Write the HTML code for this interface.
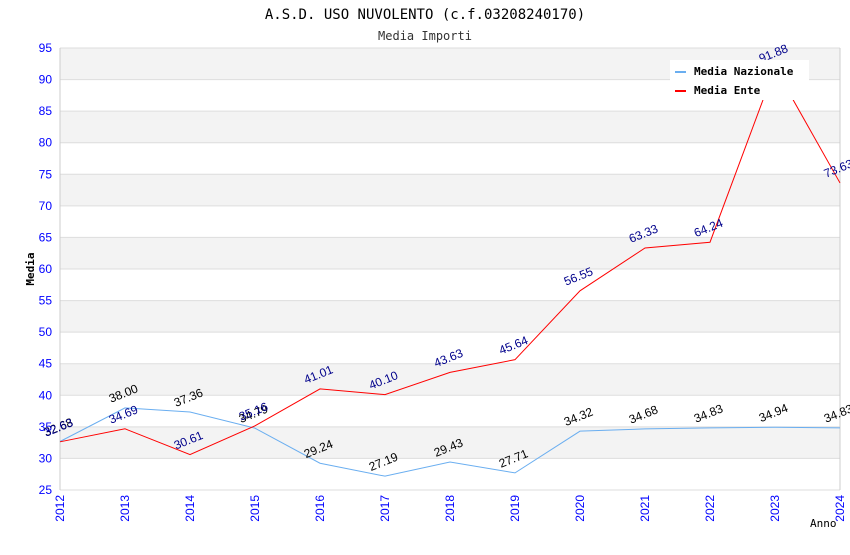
<!DOCTYPE html>
<html><head><meta charset="utf-8"><style>
body{margin:0;background:#fff;}
svg text{font-family:"DejaVu Sans Mono","Liberation Mono",monospace;}
svg text.sans{font-family:"Liberation Sans",Arial,sans-serif;}
</style></head><body>
<svg id="chart" width="850" height="550">
<text x="425" y="19" text-anchor="middle" font-size="14" fill="#000">A.S.D. USO NUVOLENTO (c.f.03208240170)</text>
<text x="425" y="40" text-anchor="middle" font-size="12" fill="#333">Media Importi</text>
<g id="bands"></g><g id="grid"></g><g id="axes"></g><g id="series"></g><g id="labels"></g>
<text x="34" y="269" text-anchor="middle" font-size="11" font-weight="bold" transform="rotate(-90 34 269)">Media</text>
<text x="810" y="527" font-size="11" fill="#000">Anno</text>
<g>
<rect x="670" y="60" width="139" height="40" fill="#fff"/>
<line x1="675" y1="72" x2="686" y2="72" stroke="#6aaef0" stroke-width="2"/>
<text x="694" y="75" font-size="11" font-weight="bold">Media Nazionale</text>
<line x1="675" y1="91" x2="686" y2="91" stroke="#ff0000" stroke-width="2"/>
<text x="694" y="94" font-size="11" font-weight="bold">Media Ente</text>
</g>
</svg>
<script>
const years=[2012,2013,2014,2015,2016,2017,2018,2019,2020,2021,2022,2023,2024];
const nazionale=[32.68,38.00,37.36,34.79,29.24,27.19,29.43,27.71,34.32,34.68,34.83,34.94,34.83];
const ente=[32.63,34.69,30.61,35.16,41.01,40.10,43.63,45.64,56.55,63.33,64.24,91.88,73.63];
const yTicks=[25,30,35,40,45,50,55,60,65,70,75,80,85,90,95];
const NS='http://www.w3.org/2000/svg';
const L=60,R=840,T=48,B=490,yMin=25,yMax=95;
const xs=i=>L+i*(R-L)/(years.length-1);
const ys=v=>B-(v-yMin)/(yMax-yMin)*(B-T);
function mk(tag,attrs,parent,text){const e=document.createElementNS(NS,tag);for(const k in attrs)e.setAttribute(k,attrs[k]);if(text!==undefined)e.textContent=text;document.getElementById(parent).appendChild(e);return e;}
for(let i=0;i<yTicks.length-1;i++){
  if(i%2===1){const r=mk('rect',{x:L,y:ys(yTicks[i+1]),width:R-L,height:ys(yTicks[i])-ys(yTicks[i+1]),fill:'#f3f3f3'},'bands');
  
  }
}
yTicks.forEach(t=>{
  const l=mk('line',{x1:L,x2:R,y1:ys(t),y2:ys(t),stroke:'#ddd','stroke-width':1},'grid');
  
  
  const tx=mk('text',{x:L-8,y:ys(t)+4,'text-anchor':'end','font-size':12,fill:'#0000ff',class:'sans'},'axes',String(t));
  
  
});
mk('line',{x1:L,x2:L,y1:T,y2:B,stroke:'#ccc'},'axes');
mk('line',{x1:R,x2:R,y1:T,y2:B,stroke:'#ccc'},'axes');
years.forEach((y,i)=>{
  const x=xs(i);
  const tx=mk('text',{x:x+4,y:B+5,'text-anchor':'end','font-size':12,fill:'#0000ff',class:'sans',transform:`rotate(-90 ${x+4} ${B+5})`},'axes',String(y));
  
  
});
function series(vals,color,labelColor,name){
  const p=mk('polyline',{points:vals.map((v,i)=>xs(i)+','+ys(v)).join(' '),fill:'none',stroke:color,'stroke-width':1},'series');
  
  
  vals.forEach((v,i)=>{
    const x=xs(i)-14,y=ys(v)-5;
    const t=mk('text',{x:x,y:y,'font-size':12,fill:labelColor,class:'sans',transform:`rotate(-22 ${x} ${y})`},'labels',v.toFixed(2));
    
    
  });
}
series(nazionale,'#6aaef0','#000','nazionale');
series(ente,'#ff0000','#00008b','ente');
</script>
</body></html>
